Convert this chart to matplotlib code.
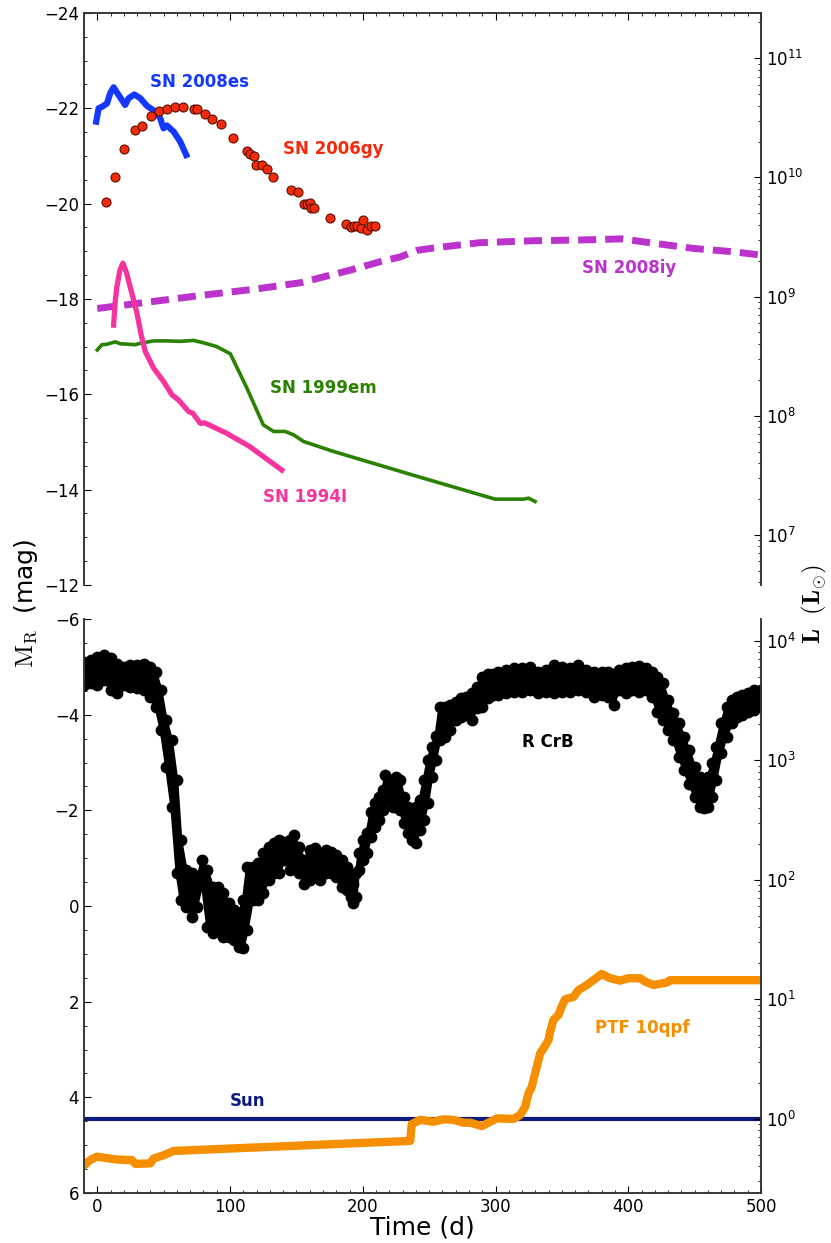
import numpy as np
import matplotlib
matplotlib.use('Agg')
import matplotlib.pyplot as plt
from matplotlib.ticker import MultipleLocator, NullFormatter, LogLocator

plt.rcParams['mathtext.fontset'] = 'cm'
plt.rcParams['font.size'] = 12
plt.rcParams['axes.edgecolor'] = '#333333'
plt.rcParams['axes.linewidth'] = 1.1

m_sun = 4.45

# --- supernovae (top panel) ---
es_t = [-0.8, 1, 3.5, 7.3, 9.8, 12.3, 16, 21, 23.6, 27.9, 32.4, 37.4, 43.7, 47.4, 49.9, 52.4, 57.5, 62.5, 67]
es_m = [-21.72, -22.0, -22.03, -22.1, -22.32, -22.44, -22.28, -22.07, -22.21, -22.29, -22.21, -22.05,
        -21.93, -21.79, -21.58, -21.64, -21.51, -21.30, -21.02]

gy_t = [6.8, 13.3, 20.3, 28.1, 33.4, 40.3, 46.4, 52.4, 58.4, 64.2, 72.5, 75, 81, 86.6, 93.4, 101.9,
        112.7, 114.7, 117.7, 119.7, 124, 127.8, 132, 146.3, 151.1, 155.4, 157.9, 159.9, 161.1, 162.9,
        175.5, 187.5, 191, 193.5, 196, 198.8, 200.5, 203, 206, 209]
gy_m = [-20.04, -20.55, -21.14, -21.55, -21.63, -21.84, -21.95, -21.99, -22.03, -22.03, -21.99, -21.99,
        -21.88, -21.77, -21.66, -21.37, -21.11, -21.04, -21.0, -20.80, -20.82, -20.73, -20.55, -20.28,
        -20.24, -20.0, -19.99, -20.02, -19.9, -19.9, -19.69, -19.57, -19.50, -19.54, -19.53, -19.48,
        -19.66, -19.45, -19.54, -19.52]

iy_t = [0, 40, 80, 120, 153, 190, 213, 228, 241, 251, 263, 288, 328, 369, 395, 419, 449, 479, 500]
iy_m = [-17.8, -17.94, -18.08, -18.21, -18.34, -18.6, -18.78, -18.88, -19.02, -19.06, -19.1, -19.18,
        -19.22, -19.24, -19.26, -19.17, -19.06, -18.99, -18.92]

em_t = [0, 3.5, 7.3, 13.6, 17.3, 28.6, 32.4, 42.4, 52.4, 62.5, 72.5, 80, 90, 100.2, 112.7, 125, 132.8,
        141.6, 147.8, 155.4, 178, 240.7, 299.7, 321, 325, 329.8]
em_m = [-16.93, -17.04, -17.05, -17.1, -17.06, -17.04, -17.07, -17.12, -17.12, -17.11, -17.13, -17.08,
        -17.0, -16.85, -16.13, -15.36, -15.22, -15.22, -15.15, -15.01, -14.8, -14.28,
        -13.8, -13.8, -13.82, -13.75]

i_t = [12.3, 13.5, 14.8, 17, 19.3, 22, 26, 29.9, 33, 36.1, 42.4, 49.9, 56.2, 61.2, 68.7, 72, 77.6,
       81, 97.6, 115, 139]
i_m = [-17.45, -17.95, -18.26, -18.6, -18.75, -18.55, -18.12, -17.7, -17.25, -16.9, -16.55, -16.27,
       -15.99, -15.88, -15.64, -15.6, -15.39, -15.4, -15.18, -14.9, -14.41]

# --- R CrB (bottom panel): bright and faint edges of the point cloud ---
rcrb_t = [-10, -5, 0, 5, 10, 15, 20, 25, 30, 35, 40, 44, 48, 52, 56, 60, 63, 67, 71, 75, 79, 83, 87,
          91, 95, 99, 103, 107, 110, 113, 117, 121, 125, 129, 133, 137, 141, 145, 148, 152, 156, 160,
          164, 168, 172, 176, 180, 184, 188, 191, 193, 195, 197, 200, 203, 206, 209, 212, 215, 217,
          220, 223, 225, 228, 231, 234, 237, 240, 243, 246, 249, 252, 255, 258, 262, 266, 270, 274,
          278, 282, 286, 290, 294, 298, 302, 308, 314, 320, 326, 332, 338, 344, 350, 356, 362, 368,
          374, 380, 385, 389, 393, 398, 403, 408, 413, 418, 422, 426, 430, 434, 438, 442, 446, 450,
          454, 457, 460, 463, 466, 470, 474, 478, 482, 486, 490, 495, 500]
rcrb_hi = [-5.11, -5.14, -5.21, -5.25, -5.18, -5.07, -5.0, -5.04, -5.04, -5.07, -5.0, -4.90, -4.52,
           -3.89, -3.47, -2.63, -1.38, -0.75, -0.68, -0.54, -0.96, -0.75, -0.40, -0.40, -0.27, -0.06,
           0.08, 0.15, -0.13, -0.82, -0.82, -0.89, -1.10, -1.24, -1.31, -1.38, -1.34, -1.38, -1.48,
           -1.24, -0.96, -1.17, -1.21, -1.10, -1.17, -1.13, -1.07, -0.96, -0.82, -0.61, -0.47, -0.68,
           -1.10, -1.38, -1.52, -1.97, -2.15, -2.28, -2.42, -2.74, -2.63, -2.56, -2.70, -2.63, -2.28,
           -2.08, -1.94, -2.08, -2.22, -2.63, -3.05, -3.33, -3.55, -4.17, -4.17, -4.20, -4.27, -4.34,
           -4.38, -4.45, -4.58, -4.79, -4.86, -4.86, -4.90, -4.93, -4.97, -4.97, -5.0, -4.90, -4.93,
           -5.04, -5.0, -4.97, -5.04, -4.93, -4.90, -4.90, -4.90, -4.86, -4.93, -4.97, -5.0, -5.02,
           -4.97, -4.90, -4.79, -4.66, -4.31, -4.03, -3.82, -3.54, -3.26, -2.91, -2.70, -2.63, -2.70,
           -2.98, -3.33, -3.82, -4.17, -4.31, -4.38, -4.41, -4.45, -4.52, -4.52]
rcrb_lo = [-4.62, -4.66, -4.62, -4.72, -4.52, -4.45, -4.62, -4.58, -4.55, -4.52, -4.38, -4.17, -3.68,
           -2.91, -2.08, -0.68, -0.12, 0.01, 0.22, 0.01, -0.47, 0.43, 0.57, 0.50, 0.64, 0.64, 0.71,
           0.85, 0.88, 0.50, -0.13, -0.13, -0.27, -0.54, -0.68, -0.68, -0.96, -0.75, -0.82, -0.68,
           -0.47, -0.54, -0.68, -0.54, -0.68, -0.68, -0.61, -0.40, -0.33, -0.19, -0.06, -0.19, -0.75,
           -0.96, -1.10, -1.45, -1.66, -1.80, -2.01, -2.22, -2.28, -2.08, -2.15, -2.01, -1.73, -1.52,
           -1.38, -1.31, -1.59, -1.80, -2.15, -2.70, -3.05, -3.47, -3.54, -3.68, -3.89, -3.96, -3.99,
           -3.89, -4.13, -4.17, -4.34, -4.41, -4.41, -4.45, -4.48, -4.48, -4.52, -4.45, -4.48, -4.45,
           -4.48, -4.48, -4.52, -4.48, -4.38, -4.41, -4.38, -4.20, -4.52, -4.45, -4.52, -4.48, -4.52,
           -4.38, -4.06, -3.89, -3.68, -3.47, -3.12, -2.84, -2.56, -2.28, -2.08, -2.04, -2.08, -2.28,
           -2.63, -3.19, -3.54, -3.82, -3.96, -3.99, -4.06, -4.10, -4.17]

# --- PTF 10qpf ---
ptf_t = [-10, -5.3, -0.2, 9.8, 14.8, 26, 28.6, 39.9, 42.4, 49.9, 57.5, 235.7, 236.9, 243.2, 253.2,
         260.8, 268.3, 275.8, 280.9, 289.7, 296, 301, 313.5, 318.5, 322.3, 324.8, 327.3, 329.8, 331.1,
         333.6, 336.1, 339.9, 341.1, 343.6, 347.4, 349.9, 352.4, 358.7, 362.4, 368.8, 373.7, 380,
         386.3, 393.8, 400, 409, 412.7, 419, 429, 431.5, 500]
ptf_m = [5.42, 5.31, 5.24, 5.28, 5.30, 5.31, 5.39, 5.38, 5.28, 5.21, 5.12, 4.91, 4.56, 4.47, 4.51,
         4.46, 4.47, 4.53, 4.53, 4.60, 4.51, 4.44, 4.45, 4.37, 4.20, 3.92, 3.78, 3.50, 3.36, 3.08,
         2.98, 2.80, 2.63, 2.38, 2.28, 2.10, 1.95, 1.90, 1.76, 1.65, 1.55, 1.42, 1.51, 1.56, 1.51,
         1.51, 1.58, 1.65, 1.60, 1.55, 1.55]


def lum(m):
    return 10 ** (-0.4 * (np.asarray(m) - m_sun))


fig = plt.figure(figsize=(8.31, 12.43), dpi=100)
ax1 = fig.add_axes([0.1011, 0.5294, 0.8147, 0.4602])
ax2 = fig.add_axes([0.1011, 0.0402, 0.8147, 0.4618])

ax1.plot(iy_t, iy_m, color='#bb33cc', lw=5, linestyle=(0, (2.6, 1.3)))
ax1.plot(em_t, em_m, color='#2a8200', lw=2.6)
ax1.plot(i_t, i_m, color='#f5359f', lw=3.8)
ax1.plot(es_t, es_m, color='#1438ff', lw=4.5)
ax1.plot(gy_t, gy_m, 'o', color='#f52a0a', mec='#5a1200', mew=0.8, ms=6.5)

ax1.text(40, -22.55, 'SN 2008es', color='#1438ff', fontweight='bold', va='center')
ax1.text(140, -21.15, 'SN 2006gy', color='#f52a0a', fontweight='bold', va='center')
ax1.text(365, -18.65, 'SN 2008iy', color='#bb33cc', fontweight='bold', va='center')
ax1.text(130, -16.13, 'SN 1999em', color='#2a8200', fontweight='bold', va='center')
ax1.text(125, -13.85, 'SN 1994I', color='#f5359f', fontweight='bold', va='center')

ax2.fill_between(rcrb_t, rcrb_hi, rcrb_lo, color='k', lw=0)
ax2.plot(rcrb_t, rcrb_hi, 'o-', color='k', lw=2, ms=7.5)
ax2.plot(rcrb_t, rcrb_lo, 'o-', color='k', lw=2, ms=7.5)
ax2.axhline(m_sun, color='#0d1a80', lw=3)
ax2.plot(ptf_t, ptf_m, color='#f58f00', lw=6, solid_joinstyle='round')

ax2.text(320, -3.43, 'R CrB', color='k', fontweight='bold', va='center')
ax2.text(113, 4.08, 'Sun', color='#0d1a80', fontweight='bold', va='center', ha='center')
ax2.text(375, 2.55, 'PTF 10qpf', color='#f58f00', fontweight='bold', va='center')

ax1.set_ylim(-12, -24)
ax2.set_ylim(6, -6)
for ax in (ax1, ax2):
    ax.set_xlim(-10, 500)
    ax.xaxis.set_major_locator(MultipleLocator(100))
    ax.xaxis.set_minor_locator(MultipleLocator(10))
    ax.yaxis.set_major_locator(MultipleLocator(2))
    ax.yaxis.set_minor_locator(MultipleLocator(0.5))
    ax.tick_params(which='both', direction='in', right=False, labelsize=12)
    ax.tick_params(which='major', length=5)
    ax.tick_params(which='minor', length=2.5)

ax1.spines['bottom'].set_visible(False)
ax1.tick_params(which='both', bottom=False, top=True, labelbottom=False)
ax2.spines['top'].set_visible(False)
ax2.tick_params(which='both', top=False, bottom=True)

# luminosity axes on the right
for ax in (ax1, ax2):
    axr = ax.twinx()
    lo, hi = ax.get_ylim()
    axr.set_yscale('log')
    axr.set_ylim(lum(lo), lum(hi))
    axr.yaxis.set_minor_locator(LogLocator(subs=np.arange(2, 10)))
    axr.yaxis.set_minor_formatter(NullFormatter())
    axr.tick_params(which='both', direction='in', labelsize=12)
    axr.tick_params(which='major', length=5)
    axr.tick_params(which='minor', length=2.5)
    if ax is ax1:
        axr.spines['bottom'].set_visible(False)
    else:
        axr.spines['top'].set_visible(False)

ax2.set_xlabel('Time (d)', fontsize=18, labelpad=0)
fig.text(0.031, 0.5149, r'$\mathrm{M_R}$  (mag)', rotation=90, fontsize=18, ha='center', va='center')
fig.text(0.98, 0.5137, r'$\mathbf{L\ \ (L_{\odot})}$', rotation=90, fontsize=18, ha='center', va='center')

fig.savefig('out.png', dpi=100)
